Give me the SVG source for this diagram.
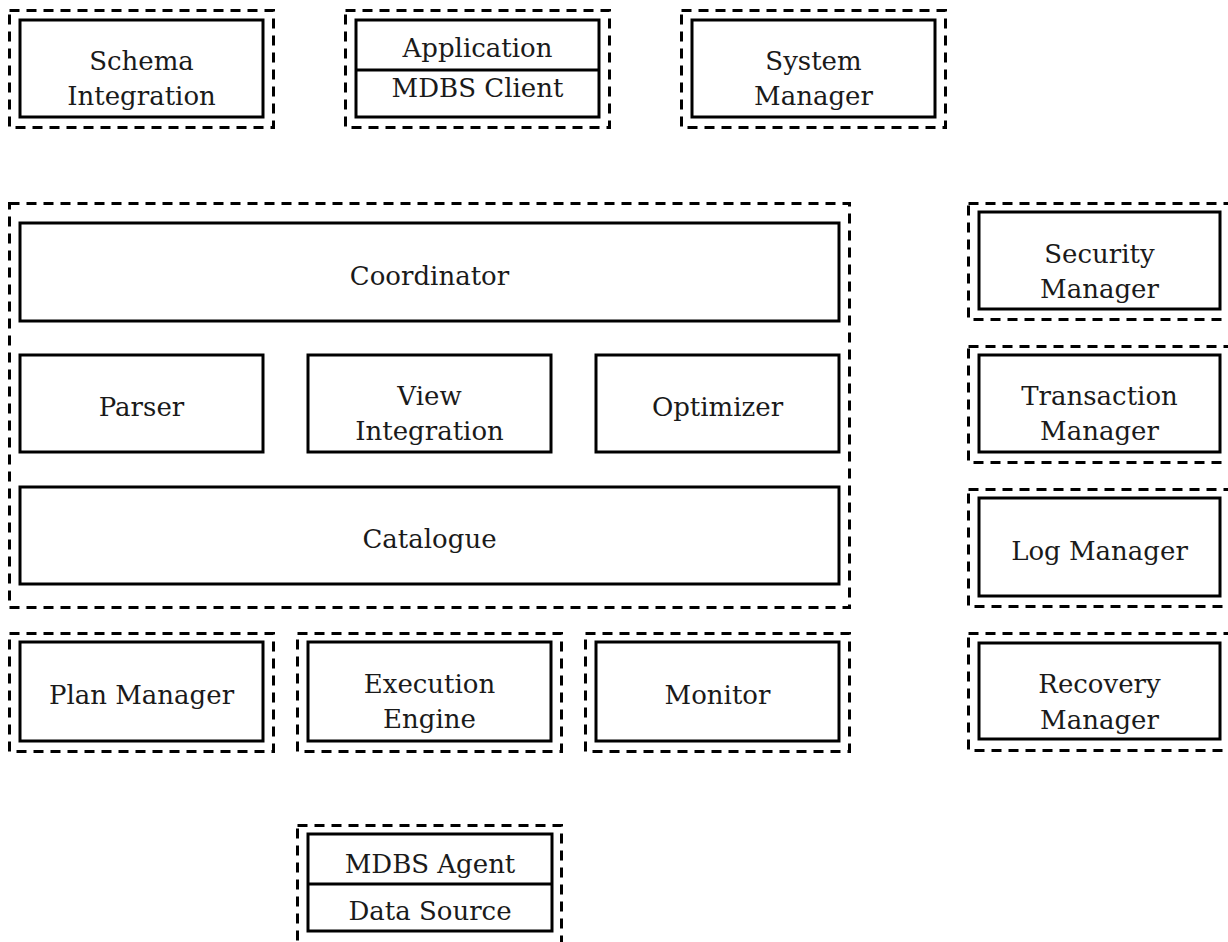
<svg xmlns="http://www.w3.org/2000/svg" width="1228" height="942" viewBox="0 0 1228 942">
<style>
.d{fill:none;stroke:#000;stroke-width:3;stroke-dasharray:10 7}
.b{fill:#fff;stroke:#000;stroke-width:3}
.l{stroke:#000;stroke-width:3}
text{font-family:"DejaVu Serif","Liberation Serif",serif;font-size:26px;fill:#1a1a1a;text-anchor:middle}
</style>
<rect width="1228" height="942" fill="#fff"/>
<g id="schema-integration">
<rect class="d" x="9.5" y="10.5" width="264" height="117"/>
<rect class="b" x="20" y="20" width="243" height="97"/>
<text x="141.5" y="70">Schema</text>
<text x="141.5" y="105">Integration</text>
</g>
<g id="application-client">
<rect class="d" x="345.5" y="10.5" width="264" height="117"/>
<rect class="b" x="356" y="20" width="243" height="97"/>
<line class="l" x1="356" y1="70" x2="599" y2="70"/>
<text x="477.5" y="57">Application</text>
<text x="477.5" y="97">MDBS Client</text>
</g>
<g id="system-manager">
<rect class="d" x="681.5" y="10.5" width="264" height="117"/>
<rect class="b" x="692" y="20" width="243" height="97"/>
<text x="813.5" y="70">System</text>
<text x="813.5" y="105">Manager</text>
</g>
<g id="core">
<rect class="d" x="9.5" y="203.5" width="840" height="404"/>
<g id="coordinator">
<rect class="b" x="20" y="223" width="819" height="98"/>
<text x="429.5" y="285">Coordinator</text>
</g>
<g id="parser">
<rect class="b" x="20" y="355" width="243" height="97"/>
<text x="141.5" y="416">Parser</text>
</g>
<g id="view-integration">
<rect class="b" x="308" y="355" width="243" height="97"/>
<text x="429.5" y="405">View</text>
<text x="429.5" y="440">Integration</text>
</g>
<g id="optimizer">
<rect class="b" x="596" y="355" width="243" height="97"/>
<text x="717.5" y="416">Optimizer</text>
</g>
<g id="catalogue">
<rect class="b" x="20" y="487" width="819" height="97"/>
<text x="429.5" y="548">Catalogue</text>
</g>
</g>
<g id="plan-manager">
<rect class="d" x="9.5" y="633.5" width="264" height="118"/>
<rect class="b" x="20" y="642" width="243" height="99"/>
<text x="141.5" y="704">Plan Manager</text>
</g>
<g id="execution-engine">
<rect class="d" x="297.5" y="633.5" width="264" height="118"/>
<rect class="b" x="308" y="642" width="243" height="99"/>
<text x="429.5" y="693">Execution</text>
<text x="429.5" y="728">Engine</text>
</g>
<g id="monitor">
<rect class="d" x="585.5" y="633.5" width="264" height="118"/>
<rect class="b" x="596" y="642" width="243" height="99"/>
<text x="717.5" y="704">Monitor</text>
</g>
<g id="security-manager">
<rect class="d" x="968.5" y="203.5" width="264" height="116"/>
<rect class="b" x="979" y="212" width="241" height="97"/>
<text x="1099.5" y="263">Security</text>
<text x="1099.5" y="298">Manager</text>
</g>
<g id="transaction-manager">
<rect class="d" x="968.5" y="346.5" width="264" height="116"/>
<rect class="b" x="979" y="355" width="241" height="97"/>
<text x="1099.5" y="405">Transaction</text>
<text x="1099.5" y="440">Manager</text>
</g>
<g id="log-manager">
<rect class="d" x="968.5" y="489.5" width="264" height="117"/>
<rect class="b" x="979" y="498" width="241" height="98"/>
<text x="1099.5" y="560">Log Manager</text>
</g>
<g id="recovery-manager">
<rect class="d" x="968.5" y="633.5" width="264" height="117"/>
<rect class="b" x="979" y="643" width="241" height="96"/>
<text x="1099.5" y="693">Recovery</text>
<text x="1099.5" y="729">Manager</text>
</g>
<g id="agent-source">
<rect class="d" x="297.5" y="825.5" width="264" height="125"/>
<rect class="b" x="308" y="834" width="244" height="97"/>
<line class="l" x1="308" y1="884" x2="552" y2="884"/>
<text x="430" y="873">MDBS Agent</text>
<text x="430" y="920">Data Source</text>
</g>
<g id="connectors"></g>
</svg>
